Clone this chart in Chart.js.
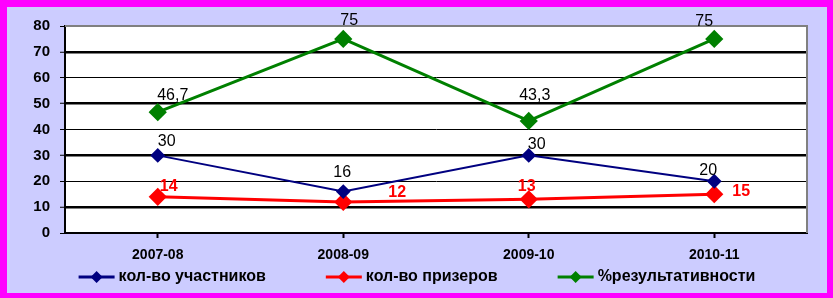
<!DOCTYPE html>
<html>
<head>
<meta charset="utf-8">
<script src="https://cdn.jsdelivr.net/npm/chart.js@4/dist/chart.umd.min.js"></script>
<style>
  html, body { margin: 0; padding: 0; background: #ff00ff; }
  .frame { position: absolute; left: 7px; top: 7px; width: 820px; height: 286px; background: #ccccff; }
</style>
</head>
<body>
<div class="frame"><canvas class="result-chart" width="820" height="286"></canvas></div>
<script>
const years = ['2007-08', '2008-09', '2009-10', '2010-11']
const participants = [30, 16, 30, 20]
const winners = [14, 12, 13, 15]
const effectiveness = [46.7, 75, 43.3, 75]
const yTicks = [0, 10, 20, 30, 40, 50, 60, 70, 80]

const ctx = document.querySelector('.result-chart')

// labels in the original were moved by hand, so each point has its own nudge
const pointLabels = {
    id: 'pointLabels',
    afterDatasetsDraw(chart) {
        const c = chart.ctx
        c.save()
        c.textAlign = 'center'
        c.textBaseline = 'middle'
        chart.data.datasets.forEach((ds, i) => {
            const meta = chart.getDatasetMeta(i)
            c.font = ds.labelFont
            c.fillStyle = ds.labelColor
            meta.data.forEach((pt, j) => {
                const off = ds.labelOffsets[j]
                c.fillText(String(ds.data[j]).replace('.', ','), pt.x + off[0], pt.y + off[1])
            })
        })
        c.restore()
    }
}

const frameLines = {
    id: 'frameLines',
    beforeDraw(chart) {
        const a = chart.chartArea
        const c = chart.ctx
        c.save()
        c.fillStyle = '#ffffff'
        c.fillRect(a.left, a.top, a.right - a.left, a.bottom - a.top)
        c.restore()
    },
    beforeDatasetsDraw(chart) {
        const a = chart.chartArea
        const c = chart.ctx
        c.save()
        c.strokeStyle = '#808080'
        c.lineWidth = 2
        c.beginPath()
        c.moveTo(a.left, a.top)
        c.lineTo(a.right, a.top)
        c.lineTo(a.right, a.bottom)
        c.stroke()
        c.restore()
    }
}

const lineLegend = {
    id: 'lineLegend',
    afterDraw(chart) {
        const c = chart.ctx
        c.save()
        c.font = 'bold 16px "Liberation Sans", Arial, sans-serif'
        c.textBaseline = 'middle'
        const gap = 60
        const items = chart.data.datasets.map(ds => ({ ds, w: 40 + c.measureText(ds.label).width }))
        const total = items.reduce((s, it) => s + it.w, 0) + gap * (items.length - 1)
        let x = (chart.width - total) / 2
        const y = 270
        items.forEach(it => {
            c.strokeStyle = it.ds.borderColor
            c.lineWidth = 3
            c.beginPath()
            c.moveTo(x, y)
            c.lineTo(x + 36, y)
            c.stroke()
            c.fillStyle = it.ds.borderColor
            c.beginPath()
            c.moveTo(x + 18, y - 6)
            c.lineTo(x + 24, y)
            c.lineTo(x + 18, y + 6)
            c.lineTo(x + 12, y)
            c.closePath()
            c.fill()
            c.fillStyle = '#000000'
            c.fillText(it.ds.label, x + 40, y)
            x += it.w + gap
        })
        c.restore()
    }
}

new Chart(ctx, {
    type: 'line',
    data: {
        labels: years,
        datasets: [
            {
                label: 'кол-во участников',
                data: participants,
                borderColor: '#000080',
                backgroundColor: '#000080',
                borderWidth: 2,
                pointStyle: 'rectRot',
                pointRadius: 6,
                labelColor: '#000000',
                labelFont: '16px "Liberation Sans", Arial, sans-serif',
                labelOffsets: [[9, -14], [-1, -19], [8, -11], [-6, -11]]
            },
            {
                label: 'кол-во призеров',
                data: winners,
                borderColor: '#ff0000',
                backgroundColor: '#ff0000',
                borderWidth: 3,
                pointStyle: 'rectRot',
                pointRadius: 7,
                labelColor: '#ff0000',
                labelFont: 'bold 16px "Liberation Sans", Arial, sans-serif',
                labelOffsets: [[11, -10], [54, -9], [-2, -13], [27, -3]]
            },
            {
                label: '%результативности',
                data: effectiveness,
                borderColor: '#008000',
                backgroundColor: '#008000',
                borderWidth: 3,
                pointStyle: 'rectRot',
                pointRadius: 7,
                labelColor: '#000000',
                labelFont: '16px "Liberation Sans", Arial, sans-serif',
                labelOffsets: [[15, -17], [6, -18], [6, -25], [-10, -17]]
            }
        ]
    },
    options: {
        responsive: false,
        animation: false,
        layout: {
            padding: { top: 18, right: 20, left: 0, bottom: 0 }
        },
        scales: {
            x: {
                offset: true,
                border: { display: true, color: '#000000', width: 2 },
                grid: {
                    drawOnChartArea: false,
                    tickLength: 5,
                    tickColor: '#000000',
                    tickWidth: 2
                },
                ticks: {
                    color: '#000000',
                    padding: 9,
                    font: { family: '"Liberation Sans", Arial, sans-serif', size: 14, weight: 'bold' }
                },
                afterFit(scale) { scale.height = 60 }
            },
            y: {
                min: 0,
                max: 80,
                afterBuildTicks(scale) { scale.ticks = yTicks.map(v => ({ value: v })) },
                border: { display: true, color: '#000000', width: 2 },
                grid: {
                    color: c => c.tick && c.tick.value === 80 ? 'rgba(0,0,0,0)' : '#000000',
                    lineWidth: c => c.tick && c.tick.value % 20 === 10 ? 2.5 : 1,
                    tickLength: 5,
                    tickColor: '#000000',
                    tickWidth: 1
                },
                ticks: {
                    color: '#000000',
                    padding: 10,
                    font: { family: '"Liberation Sans", Arial, sans-serif', size: 15, weight: 'bold' }
                },
                afterFit(scale) { scale.width = 58 }
            }
        },
        plugins: {
            legend: { display: false },
            tooltip: { enabled: false }
        }
    },
    plugins: [frameLines, pointLabels, lineLegend]
})
</script>
</body>
</html>
